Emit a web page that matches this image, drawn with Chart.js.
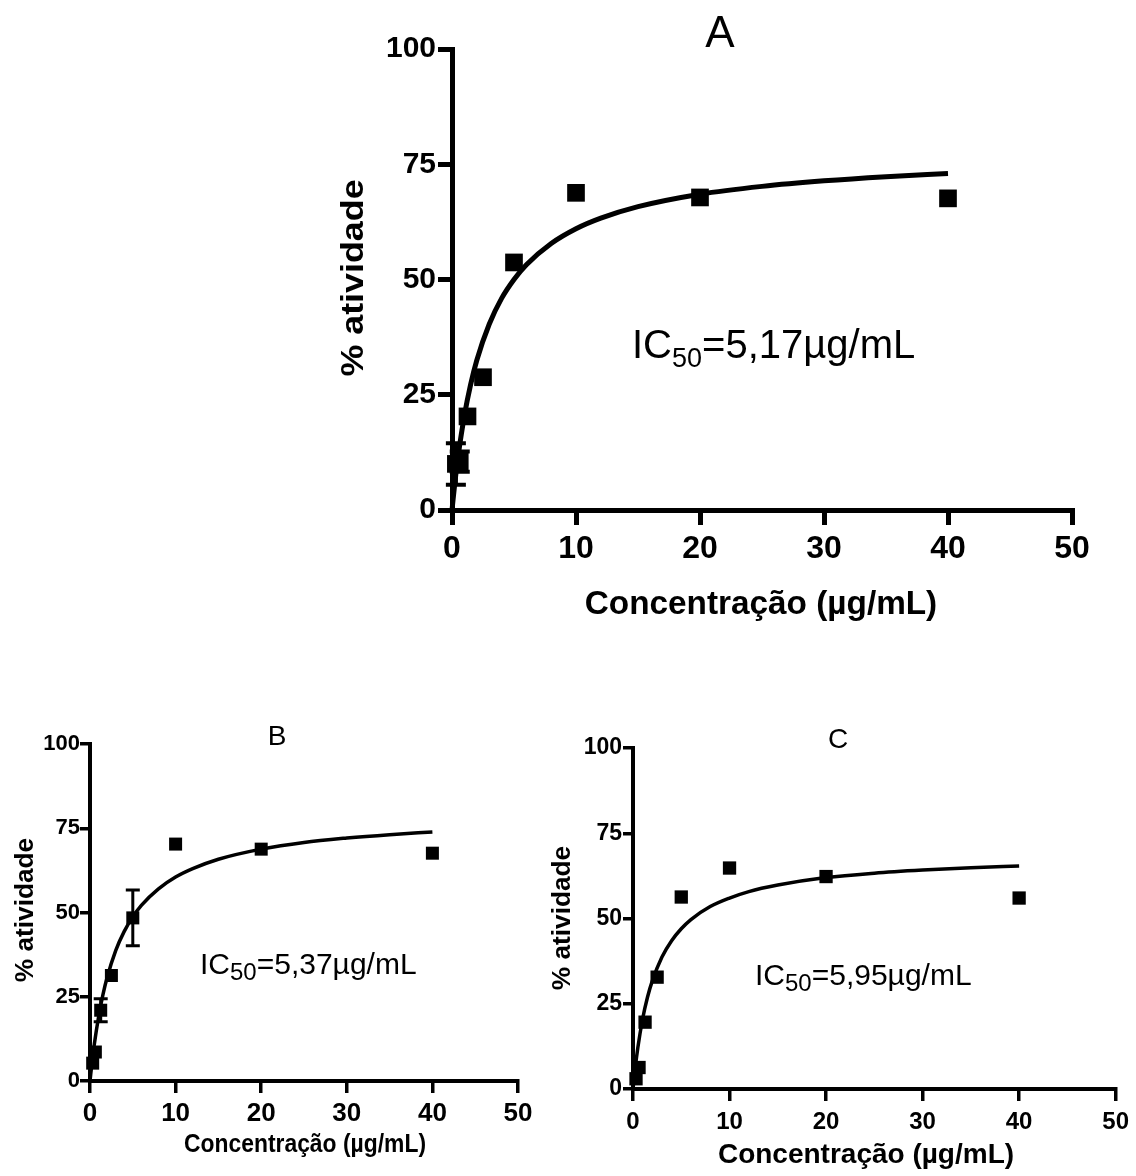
<!DOCTYPE html>
<html>
<head>
<meta charset="utf-8">
<title>IC50 - atividade</title>
<script src="https://cdn.jsdelivr.net/npm/chart.js@4.4.1/dist/chart.umd.min.js"></script>
<style>
  body { margin: 0; background: #fff; width: 1136px; height: 1176px; position: relative; overflow: hidden; }
  canvas { position: absolute; }
</style>
</head>
<body>
<canvas id="chartA" width="836" height="650" style="left:300px;top:0px"></canvas>
<canvas id="chartB" width="540" height="476" style="left:0px;top:700px"></canvas>
<canvas id="chartC" width="596" height="476" style="left:540px;top:700px"></canvas>

<script>
// Axis ticks shared by the three panels
const X_TICKS = [0, 10, 20, 30, 40, 50];
const Y_TICKS = [0, 25, 50, 75, 100];

// Tested concentrations (µg/mL)
const concentrations = [0.3125, 0.625, 1.25, 2.5, 5, 10, 20, 40];

const activityA = [10.0, 10.5, 20.3, 28.8, 53.7, 68.8, 67.8, 67.6];
const errorA = [4.5, 2.2, 0, 0, 0, 0, 0, 0];
const activityB = [5.3, 8.6, 21.0, 31.3, 48.4, 70.3, 68.8, 67.6];
const errorB = [0, 0, 3.4, 0, 8.3, 0, 0, 0];
const activityC = [3.0, 6.3, 19.6, 32.8, 56.3, 64.8, 62.3, 56.0];
const errorC = [0, 0, 0, 0, 0, 0, 0, 0];

// Fitted curves
const curveX = [0, 0.25, 0.5, 1, 1.5, 2, 3, 4, 5, 6, 8, 10, 12, 15, 20, 25, 30, 35, 40];
const curveA = [0, 6.4, 11.8, 20.5, 27.2, 32.5, 40.3, 45.9, 50.0, 53.2, 57.8, 61.0, 63.3, 65.8, 68.5, 70.2, 71.4, 72.3, 73.0];
const curveB = [0, 5.8, 10.8, 19.0, 25.5, 30.7, 38.7, 44.4, 48.7, 52.1, 57.0, 60.5, 63.0, 65.8, 68.8, 70.8, 72.1, 73.1, 73.9];
const curveC = [0, 6.6, 12.1, 20.6, 26.9, 31.7, 38.7, 43.5, 47.0, 49.7, 53.5, 56.0, 57.9, 59.8, 62.0, 63.3, 64.2, 64.9, 65.4];

const FONT = "'Liberation Sans', Arial, Helvetica, sans-serif";

function toPoints(xs, ys) {
  return xs.map((x, i) => ({ x: x, y: ys[i] }));
}

// Draw a run of text parts (used for IC50 with subscript)
function drawRich(ctx, x, y, parts) {
  let cx = x;
  parts.forEach((p) => {
    ctx.font = (p.weight || "normal") + " " + p.size + "px " + FONT;
    ctx.fillText(p.text, cx, y + (p.dy || 0));
    cx += ctx.measureText(p.text).width;
  });
}

// Plugin: titles, panel letter and IC50 label (page coords minus canvas offset)
function textPlugin(items, offX, offY) {
  return {
    id: "panelText",
    afterDraw(chart) {
      const ctx = chart.ctx;
      ctx.save();
      ctx.fillStyle = "#000";
      ctx.textBaseline = "alphabetic";
      items.forEach((it) => {
        const x = it.x - offX;
        const y = it.y - offY;
        if (it.parts) {
          ctx.textAlign = "left";
          drawRich(ctx, x, y, it.parts);
          return;
        }
        ctx.font = (it.weight || "normal") + " " + it.size + "px " + FONT;
        ctx.textAlign = it.align || "center";
        ctx.save();
        ctx.translate(x, y);
        if (it.rotate) ctx.rotate(-Math.PI / 2);
        ctx.scale(it.scaleX || 1, 1);
        ctx.fillText(it.text, 0, 0);
        ctx.restore();
      });
      ctx.restore();
    },
  };
}

// Plugin: vertical error bars with caps
function errorBarPlugin(values, errors, capWidth, lineWidth) {
  return {
    id: "errorBars",
    afterDatasetsDraw(chart) {
      const ctx = chart.ctx;
      const yScale = chart.scales.y;
      const meta = chart.getDatasetMeta(0);
      ctx.save();
      ctx.strokeStyle = "#000";
      ctx.lineWidth = lineWidth;
      meta.data.forEach((pt, i) => {
        const err = errors[i];
        if (!err) return;
        const top = yScale.getPixelForValue(values[i] + err);
        const bottom = yScale.getPixelForValue(values[i] - err);
        ctx.beginPath();
        ctx.moveTo(pt.x, top);
        ctx.lineTo(pt.x, bottom);
        ctx.moveTo(pt.x - capWidth / 2, top);
        ctx.lineTo(pt.x + capWidth / 2, top);
        ctx.moveTo(pt.x - capWidth / 2, bottom);
        ctx.lineTo(pt.x + capWidth / 2, bottom);
        ctx.stroke();
      });
      ctx.restore();
    },
  };
}

function makePanel(id, cfg) {
  const canvas = document.getElementById(id);
  return new Chart(canvas, {
    type: "scatter",
    data: {
      datasets: [
        {
          data: toPoints(concentrations, cfg.values),
          pointStyle: "rect",
          pointRadius: cfg.pointRadius,
          backgroundColor: "#000",
          borderWidth: 0,
          clip: false,
        },
        {
          data: toPoints(curveX, cfg.curve),
          showLine: true,
          pointRadius: 0,
          borderColor: "#000",
          borderWidth: cfg.curveWidth,
          cubicInterpolationMode: "monotone",
          clip: false,
        },
      ],
    },
    options: {
      responsive: false,
      animation: false,
      events: [],
      layout: { padding: cfg.padding },
      plugins: {
        legend: { display: false },
        tooltip: { enabled: false },
      },
      scales: {
        x: {
          type: "linear",
          min: 0,
          max: 50,
          afterBuildTicks: (s) => { s.ticks = X_TICKS.map((v) => ({ value: v })); },
          afterFit: (s) => { s.height = cfg.xHeight; },
          border: { color: "#000", width: cfg.axisWidth },
          grid: {
            drawOnChartArea: false,
            tickLength: cfg.xTickLength,
            tickWidth: cfg.tickWidth,
            tickColor: "#000",
            color: "#000",
            lineWidth: cfg.tickWidth,
          },
          ticks: {
            color: "#000",
            padding: cfg.xTickPadding,
            maxRotation: 0,
            font: { family: FONT, size: cfg.xTickSize, weight: "bold" },
          },
        },
        y: {
          type: "linear",
          min: 0,
          max: 100,
          afterBuildTicks: (s) => { s.ticks = Y_TICKS.map((v) => ({ value: v })); },
          afterFit: (s) => { s.width = cfg.yWidth; },
          border: { color: "#000", width: cfg.axisWidth },
          grid: {
            drawOnChartArea: false,
            tickLength: cfg.yTickLength,
            tickWidth: cfg.tickWidth,
            tickColor: "#000",
            color: "#000",
            lineWidth: cfg.tickWidth,
          },
          ticks: {
            color: "#000",
            padding: cfg.yTickPadding,
            font: { family: FONT, size: cfg.yTickSize, weight: "bold" },
          },
        },
      },
    },
    plugins: [
      errorBarPlugin(cfg.values, cfg.errors, cfg.capWidth, cfg.errWidth),
      textPlugin(cfg.texts, cfg.offX, cfg.offY),
    ],
  });
}

document.addEventListener("DOMContentLoaded", () => {
  // Panel A (large, top)
  makePanel("chartA", {
    values: activityA, errors: errorA, curve: curveA,
    pointRadius: 12.5, curveWidth: 5, axisWidth: 5, tickWidth: 5,
    xTickLength: 15, yTickLength: 14, xTickPadding: 5, yTickPadding: 2,
    xTickSize: 32, yTickSize: 30, capWidth: 20, errWidth: 4,
    yWidth: 100, xHeight: 60,
    padding: { left: 52, top: 49, right: 64, bottom: 80 },
    offX: 300, offY: 0,
    texts: [
      { text: "A", x: 720, y: 47, size: 44 },
      { text: "% atividade", x: 363, y: 278, size: 32, weight: "bold", rotate: true, scaleX: 1.12 },
      { text: "Concentração (µg/mL)", x: 761, y: 614, size: 34, weight: "bold", scaleX: 0.98 },
      { x: 632, y: 358, parts: [
        { text: "IC", size: 40 },
        { text: "50", size: 27, dy: 9 },
        { text: "=5,17µg/mL", size: 40 },
      ] },
    ],
  });

  // Panel B (bottom left)
  makePanel("chartB", {
    values: activityB, errors: errorB, curve: curveB,
    pointRadius: 9.2, curveWidth: 3.5, axisWidth: 4, tickWidth: 3.5,
    xTickLength: 12, yTickLength: 10, xTickPadding: 5, yTickPadding: 0,
    xTickSize: 26, yTickSize: 22, capWidth: 14, errWidth: 3,
    yWidth: 80, xHeight: 50,
    padding: { left: 10, top: 44, right: 22, bottom: 45 },
    offX: 0, offY: 700,
    texts: [
      { text: "B", x: 277, y: 745, size: 28 },
      { text: "% atividade", x: 33, y: 910, size: 25, weight: "bold", rotate: true, scaleX: 1.05 },
      { text: "Concentração (µg/mL)", x: 305, y: 1152, size: 26, weight: "bold", scaleX: 0.88 },
      { x: 200, y: 974, parts: [
        { text: "IC", size: 30 },
        { text: "50", size: 24, dy: 6 },
        { text: "=5,37µg/mL", size: 30 },
      ] },
    ],
  });

  // Panel C (bottom right)
  makePanel("chartC", {
    values: activityC, errors: errorC, curve: curveC,
    pointRadius: 9.4, curveWidth: 3.5, axisWidth: 4, tickWidth: 3.5,
    xTickLength: 12, yTickLength: 10, xTickPadding: 7, yTickPadding: 1,
    xTickSize: 24, yTickSize: 23, capWidth: 14, errWidth: 3,
    yWidth: 80, xHeight: 50,
    padding: { left: 13, top: 48, right: 14, bottom: 37 },
    offX: 540, offY: 700,
    texts: [
      { text: "C", x: 838, y: 748, size: 28 },
      { text: "% atividade", x: 570, y: 918, size: 25, weight: "bold", rotate: true, scaleX: 1.05 },
      { text: "Concentração (µg/mL)", x: 866, y: 1163, size: 28, weight: "bold" },
      { x: 755, y: 985, parts: [
        { text: "IC", size: 30 },
        { text: "50", size: 24, dy: 6 },
        { text: "=5,95µg/mL", size: 30 },
      ] },
    ],
  });
});
</script>
</body>
</html>
